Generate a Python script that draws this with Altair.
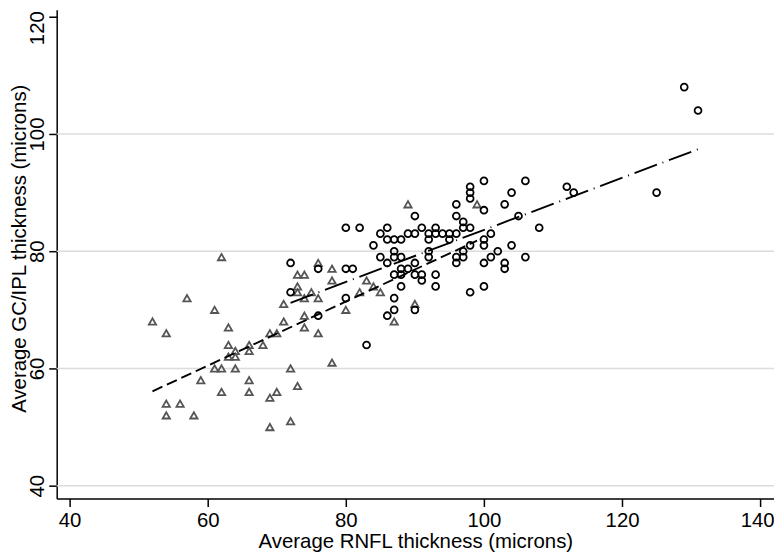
import altair as alt
import pandas as pd

# Triangles (grey group)
tri_x = [62, 57, 61, 52, 54, 63, 63, 64, 63, 64, 66, 66, 68, 69, 70, 61, 62, 64, 59, 62,
         66, 66, 54, 56, 54, 58, 69, 70, 69,
         76, 78, 73, 74, 78, 73, 73, 75, 74, 76, 71, 82, 80, 74, 71, 74, 76, 78, 72, 73, 72,
         83, 84, 85, 90, 87, 89, 99]
tri_y = [79, 72, 70, 68, 66, 67, 64, 63, 62, 62, 64, 63, 64, 66, 66, 60, 60, 60, 58, 56,
         58, 56, 54, 54, 52, 52, 55, 56, 50,
         78, 77, 76, 76, 75, 74, 73, 73, 72, 72, 71, 73, 70, 69, 68, 67, 66, 61, 60, 57, 51,
         75, 74, 73, 71, 68, 88, 88]

# Circles (black group)
circ_x = [72, 76, 72, 76, 80, 81, 80, 80, 82, 83,
          84, 85, 85,
          86, 86, 86, 86,
          87, 87, 87, 87, 87, 87,
          88, 88, 88, 88, 88,
          89, 89,
          90, 90, 90, 90, 90,
          91, 91, 91,
          92, 92, 92, 92,
          93, 93, 93, 93,
          94,
          95, 95,
          96, 96, 96, 96, 96,
          97, 97, 97, 97,
          98, 98, 98, 98, 98, 98,
          100, 100, 100, 100, 100, 100,
          101, 101,
          102,
          103, 103, 103,
          104, 104,
          105,
          106, 106,
          108,
          112, 113,
          125, 129, 131]
circ_y = [78, 77, 73, 69, 77, 77, 72, 84, 84, 64,
          81, 83, 79,
          84, 82, 78, 69,
          82, 80, 79, 76, 72, 70,
          82, 79, 77, 76, 74,
          83, 77,
          86, 83, 78, 76, 70,
          84, 76, 75,
          83, 82, 80, 79,
          84, 83, 76, 74,
          83,
          83, 82,
          88, 86, 83, 79, 78,
          85, 84, 80, 79,
          91, 90, 89, 84, 81, 73,
          92, 87, 82, 81, 78, 74,
          83, 79,
          80,
          88, 78, 77,
          90, 81,
          86,
          92, 79,
          84,
          91, 90,
          90, 108, 104]

# Fitted lines (endpoints)
fit_tri_x = [52, 99]
fit_tri_y = [56.1, 81.8]
fit_circ_x = [72, 131]
fit_circ_y = [71.2, 97.4]

x_ticks = [40, 60, 80, 100, 120, 140]
y_ticks = [40, 60, 80, 100, 120]
grid_y = [40, 60, 80, 100]

FONT = "Liberation Sans"
FS = 20.5

tri = pd.DataFrame({"x": tri_x, "y": tri_y})
circ = pd.DataFrame({"x": circ_x, "y": circ_y})
ftri = pd.DataFrame({"x": fit_tri_x, "y": fit_tri_y})
fcirc = pd.DataFrame({"x": fit_circ_x, "y": fit_circ_y})
grid = pd.DataFrame({"y": grid_y})

xs = alt.Scale(domain=[38.13, 142.0], nice=False, zero=False)
ys = alt.Scale(domain=[37.8, 121.19], nice=False, zero=False)

xaxis = alt.Axis(values=x_ticks, grid=False, domainColor="black", domainWidth=1.5,
                 tickColor="black", tickWidth=1.5, tickSize=8, labelFont=FONT,
                 labelFontSize=FS, labelColor="black", labelPadding=4, labelFlush=False,
                 labelOverlap=False,
                 labelOffset={"condition": {"test": "datum.value == 140", "value": -3},
                              "value": 0},
                 titleFont=FONT, titleFontSize=FS, titleFontWeight="normal",
                 titleColor="black", titleBaseline="alphabetic", titleAlign="center",
                 titleX=361, titleY=49)
yaxis = alt.Axis(values=y_ticks, grid=False, domainColor="black", domainWidth=1.5,
                 tickColor="black", tickWidth=1.5, tickSize=8, labelFont=FONT,
                 labelFontSize=FS, labelColor="black", labelPadding=5, labelAngle=270,
                 labelAlign="center", labelBaseline="alphabetic", labelFlush=False,
                 labelOverlap=False,
                 labelOffset={"condition": {"test": "datum.value == 120", "value": 11},
                              "value": 0},
                 titleFont=FONT, titleFontSize=FS, titleFontWeight="normal",
                 titleColor="black", titleAngle=270, titleBaseline="top",
                 titleAlign="center", titleX=-47, titleY=240)

X = alt.X("x:Q", scale=xs, axis=xaxis, title="Average RNFL thickness (microns)")
Y = alt.Y("y:Q", scale=ys, axis=yaxis, title="Average GC/IPL thickness (microns)")

grid_layer = alt.Chart(grid).mark_rule(color="#dcdcdc", strokeWidth=1.5).encode(y=Y)

tri_layer = alt.Chart(tri).mark_point(shape="triangle-up", filled=False, color="#555555",
                                      size=54, strokeWidth=1.8, opacity=1).encode(x=X, y=Y)
circ_layer = alt.Chart(circ).mark_point(shape="circle", filled=False, color="#000000",
                                        size=48, strokeWidth=1.8, opacity=1).encode(x=X, y=Y)
ftri_layer = alt.Chart(ftri).mark_line(color="black", strokeWidth=1.9,
                                       strokeDash=[11, 5]).encode(x=X, y=Y)
fcirc_layer = alt.Chart(fcirc).mark_line(color="black", strokeWidth=1.9,
                                         strokeDash=[24, 6, 1, 6]).encode(x=X, y=Y)

chart = alt.layer(grid_layer, tri_layer, circ_layer, ftri_layer, fcirc_layer).properties(
    width=722, height=492,
    autosize=alt.AutoSizeParams(type="none"),
    padding={"left": 49, "top": 0, "right": 0, "bottom": 55},
    background="white",
).configure_view(stroke=None)

chart.save("out.html", embed_options={"renderer": "svg", "actions": False})
